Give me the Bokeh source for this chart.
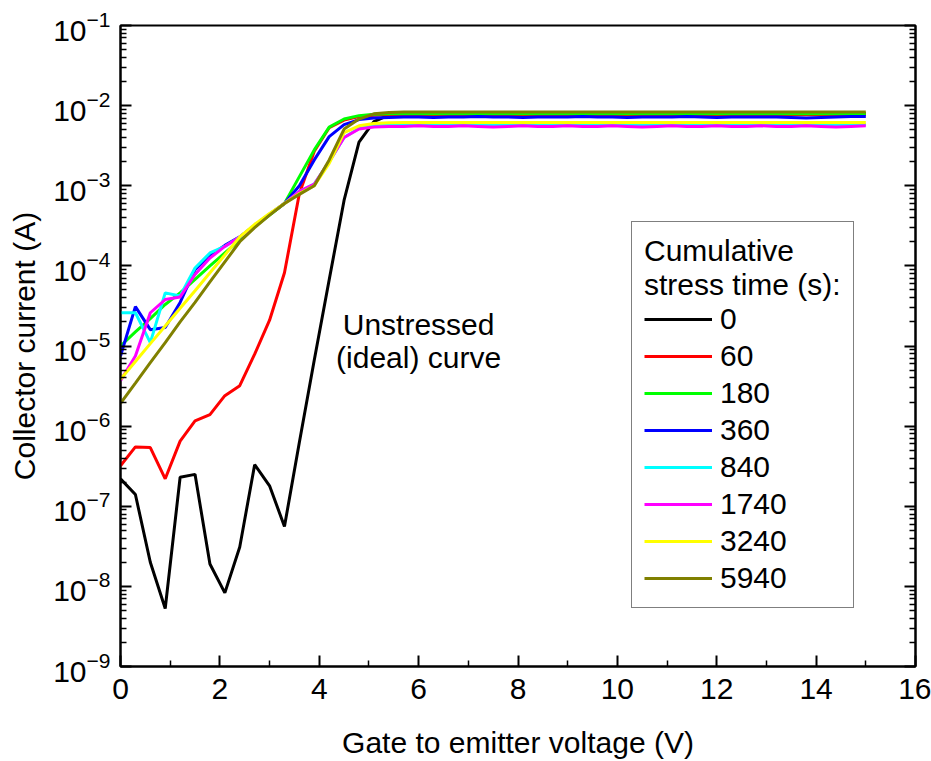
from bokeh.plotting import figure
from bokeh.models import (Range1d, LogAxis, Legend, LegendItem, Label,
                          FixedTicker, CustomJSTickFormatter)
from bokeh.embed import file_html
from bokeh.resources import INLINE

FONT = "Liberation Sans"

# Gate-emitter voltage (V)
vge = [0.0, 0.3, 0.6, 0.9, 1.2, 1.5, 1.8, 2.1, 2.4, 2.7, 3.0, 3.3, 3.6, 3.9, 4.2, 4.5, 4.8,
       5.1, 5.4, 5.7, 6.0, 6.3, 6.6, 6.9, 7.2, 7.5, 7.8, 8.1, 8.4, 8.7, 9.0, 9.3, 9.6, 9.9,
       10.2, 10.5, 10.8, 11.1, 11.4, 11.7, 12.0, 12.3, 12.6, 12.9, 13.2, 13.5, 13.8, 14.1,
       14.4, 14.7, 15.0]

stress_labels = ["0", "60", "180", "360", "840", "1740", "3240", "5940"]
colors = ["#000000", "#ff0000", "#00ff00", "#0000ff", "#00ffff", "#ff00ff", "#ffff00", "#808000"]

ic_0 = [2.2e-7, 1.4e-7, 2.0e-8, 5.3e-9, 2.3e-7, 2.5e-7, 1.9e-8, 8.3e-9, 3.1e-8, 3.3e-7, 1.8e-7, 5.6e-8,
        6.3e-7, 6.7e-6, 6.7e-5, 6.6e-4, 3.5e-3, 6.3e-3, 7.6e-3, 7.9e-3,
        8.0e-3, 8.0e-3, 8.0e-3, 8.0e-3, 8.0e-3, 8.0e-3, 8.0e-3, 8.0e-3, 8.0e-3, 8.0e-3, 8.0e-3,
        8.0e-3, 8.0e-3, 8.0e-3, 8.0e-3, 8.0e-3, 8.0e-3, 8.0e-3, 8.0e-3, 8.0e-3, 8.0e-3, 8.0e-3,
        8.0e-3, 8.0e-3, 8.0e-3, 8.0e-3, 8.0e-3, 8.0e-3, 8.0e-3, 8.0e-3, 8.0e-3]
ic_60 = [3.2e-7, 5.5e-7, 5.4e-7, 2.2e-7, 6.5e-7, 1.16e-6, 1.39e-6, 2.4e-6, 3.2e-6, 7.9e-6, 2.1e-5, 8.2e-5,
         8.0e-4, 2.7e-3, 5.3e-3, 6.6e-3, 7.3e-3, 7.6e-3, 7.7e-3, 7.7e-3,
         7.7e-3, 7.7e-3, 7.7e-3, 7.7e-3, 7.7e-3, 7.7e-3, 7.7e-3, 7.7e-3, 7.7e-3, 7.7e-3, 7.7e-3,
         7.7e-3, 7.7e-3, 7.7e-3, 7.7e-3, 7.7e-3, 7.7e-3, 7.7e-3, 7.7e-3, 7.7e-3, 7.7e-3, 7.7e-3,
         7.7e-3, 7.7e-3, 7.7e-3, 7.7e-3, 7.7e-3, 7.7e-3, 7.7e-3, 7.7e-3, 7.7e-3]
ic_180 = [1.0e-5, 1.5e-5, 2.2e-5, 3.3e-5, 4.6e-5, 6.8e-5, 1.0e-4, 1.45e-4, 2.1e-4, 3.1e-4, 4.3e-4, 6.0e-4,
          1.3e-3, 2.8e-3, 5.4e-3, 6.8e-3, 7.5e-3, 7.8e-3, 7.9e-3, 7.9e-3,
          7.9e-3, 7.9e-3, 7.9e-3, 7.9e-3, 7.9e-3, 7.9e-3, 7.9e-3, 7.9e-3, 7.9e-3, 7.9e-3, 7.9e-3,
          7.9e-3, 7.9e-3, 7.9e-3, 7.9e-3, 7.9e-3, 7.9e-3, 7.9e-3, 7.9e-3, 7.9e-3, 7.9e-3, 7.9e-3,
          7.9e-3, 7.9e-3, 7.9e-3, 7.9e-3, 7.9e-3, 7.9e-3, 7.9e-3, 7.9e-3, 7.9e-3]
ic_360 = [7.5e-6, 3.1e-5, 1.6e-5, 1.7e-5, 3.5e-5, 9.0e-5, 1.35e-4, 1.8e-4, 2.3e-4, 3.2e-4, 4.4e-4, 6.0e-4,
          1.0e-3, 2.1e-3, 4.1e-3, 5.8e-3, 6.7e-3, 7.0e-3, 7.1e-3, 7.2e-3,
          7.2e-3, 7.1e-3, 7.2e-3, 7.2e-3, 7.3e-3, 7.2e-3, 7.2e-3, 7.1e-3, 7.2e-3, 7.2e-3, 7.2e-3,
          7.3e-3, 7.2e-3, 7.2e-3, 7.1e-3, 7.2e-3, 7.2e-3, 7.2e-3, 7.3e-3, 7.2e-3, 7.1e-3, 7.2e-3,
          7.2e-3, 7.2e-3, 7.2e-3, 7.1e-3, 7.0e-3, 7.1e-3, 7.2e-3, 7.3e-3, 7.3e-3]
ic_840 = [2.6e-5, 2.6e-5, 1.1e-5, 4.6e-5, 4.2e-5, 9.4e-5, 1.45e-4, 1.75e-4, 2.3e-4, 3.2e-4, 4.4e-4, 6.0e-4,
          8.5e-4, 1.05e-3, 2.0e-3, 4.0e-3, 5.2e-3, 5.6e-3, 5.7e-3, 5.8e-3,
          5.8e-3, 5.8e-3, 5.8e-3, 5.8e-3, 5.8e-3, 5.8e-3, 5.8e-3, 5.8e-3, 5.8e-3, 5.8e-3, 5.8e-3,
          5.8e-3, 5.8e-3, 5.8e-3, 5.8e-3, 5.8e-3, 5.8e-3, 5.8e-3, 5.8e-3, 5.8e-3, 5.8e-3, 5.8e-3,
          5.8e-3, 5.8e-3, 5.8e-3, 5.8e-3, 5.8e-3, 5.8e-3, 5.8e-3, 5.8e-3, 5.8e-3]
ic_1740 = [3.7e-6, 7.5e-6, 2.6e-5, 3.8e-5, 4.1e-5, 7.8e-5, 1.25e-4, 1.75e-4, 2.3e-4, 3.2e-4, 4.4e-4, 6.0e-4,
           8.5e-4, 1.05e-3, 2.0e-3, 4.0e-3, 5.1e-3, 5.4e-3, 5.5e-3, 5.5e-3,
           5.6e-3, 5.5e-3, 5.5e-3, 5.6e-3, 5.5e-3, 5.4e-3, 5.5e-3, 5.6e-3, 5.5e-3, 5.5e-3, 5.6e-3,
           5.5e-3, 5.5e-3, 5.6e-3, 5.5e-3, 5.4e-3, 5.5e-3, 5.6e-3, 5.5e-3, 5.5e-3, 5.6e-3, 5.5e-3,
           5.5e-3, 5.6e-3, 5.5e-3, 5.5e-3, 5.6e-3, 5.5e-3, 5.4e-3, 5.5e-3, 5.6e-3]
ic_3240 = [3.85e-6, 6.4e-6, 1.07e-5, 1.78e-5, 2.96e-5, 4.9e-5, 8.2e-5, 1.37e-4, 2.3e-4, 3.3e-4, 4.5e-4, 6.0e-4,
           8.0e-4, 1.0e-3, 1.9e-3, 4.6e-3, 5.6e-3, 6.0e-3, 6.1e-3, 6.15e-3,
           6.15e-3, 6.15e-3, 6.15e-3, 6.15e-3, 6.15e-3, 6.15e-3, 6.15e-3, 6.15e-3, 6.15e-3, 6.15e-3, 6.15e-3,
           6.15e-3, 6.15e-3, 6.15e-3, 6.15e-3, 6.15e-3, 6.15e-3, 6.15e-3, 6.15e-3, 6.15e-3, 6.15e-3, 6.15e-3,
           6.15e-3, 6.15e-3, 6.15e-3, 6.15e-3, 6.15e-3, 6.15e-3, 6.15e-3, 6.15e-3, 6.15e-3]
ic_5940 = [1.93e-6, 3.45e-6, 6.2e-6, 1.1e-5, 2.0e-5, 3.5e-5, 6.3e-5, 1.12e-4, 2.0e-4, 3.0e-4, 4.3e-4, 6.0e-4,
           7.8e-4, 1.0e-3, 2.1e-3, 5.1e-3, 6.8e-3, 7.9e-3, 8.2e-3, 8.3e-3,
           8.3e-3, 8.3e-3, 8.3e-3, 8.3e-3, 8.3e-3, 8.3e-3, 8.3e-3, 8.3e-3, 8.3e-3, 8.3e-3, 8.3e-3,
           8.3e-3, 8.3e-3, 8.3e-3, 8.3e-3, 8.3e-3, 8.3e-3, 8.3e-3, 8.3e-3, 8.3e-3, 8.3e-3, 8.3e-3,
           8.3e-3, 8.3e-3, 8.3e-3, 8.3e-3, 8.3e-3, 8.3e-3, 8.3e-3, 8.3e-3, 8.3e-3]

series = [ic_0, ic_60, ic_180, ic_360, ic_840, ic_1740, ic_3240, ic_5940]

x_major = [0, 2, 4, 6, 8, 10, 12, 14, 16]
x_minor = [1, 3, 5, 7, 9, 11, 13, 15]
y_major = [1e-9, 1e-8, 1e-7, 1e-6, 1e-5, 1e-4, 1e-3, 1e-2, 1e-1]
y_minor = [m * d for d in y_major[:-1] for m in range(2, 10)]

p = figure(width=931, height=761, x_range=Range1d(0, 16), y_range=Range1d(1e-9, 1e-1),
           y_axis_type="log", output_backend="svg", toolbar_location=None,
           min_border_left=120, min_border_right=16, min_border_top=25, min_border_bottom=93)
p.grid.visible = False
p.outline_line_color = "black"
p.outline_line_width = 2
p.background_fill_color = None
p.border_fill_color = "white"

def style_axis(ax, show_labels):
    ax.axis_line_width = 2
    ax.axis_line_color = "black"
    ax.major_tick_line_width = 2
    ax.major_tick_line_color = "black"
    ax.minor_tick_line_width = 1.5
    ax.minor_tick_line_color = "black"
    ax.major_tick_in = 11
    ax.major_tick_out = 0
    ax.minor_tick_in = 6
    ax.minor_tick_out = 0
    ax.major_label_text_font = FONT
    ax.major_label_text_font_size = "30px"
    ax.major_label_text_color = "black"
    ax.axis_label_text_font = FONT
    ax.axis_label_text_font_size = "30px"
    ax.axis_label_text_font_style = "normal"
    ax.axis_label_text_color = "black"
    if not show_labels:
        ax.formatter = CustomJSTickFormatter(code="return ''")
        ax.major_label_standoff = 0

xa = p.xaxis[0]
xa.ticker = FixedTicker(ticks=x_major, minor_ticks=x_minor)
xa.axis_label = "Gate to emitter voltage (V)"
style_axis(xa, True)
xa.major_label_standoff = 12
xa.axis_label_standoff = 24

ya = p.yaxis[0]
ya.ticker = FixedTicker(ticks=y_major, minor_ticks=y_minor)
ya.axis_label = "Collector current (A)"
style_axis(ya, True)
ya.major_label_standoff = 10
ya.axis_label_standoff = 9

ra = LogAxis(ticker=FixedTicker(ticks=y_major, minor_ticks=y_minor))
style_axis(ra, False)
p.add_layout(ra, "right")

renderers = []
for ys, c in zip(series, colors):
    r = p.line(vge, ys, line_color=c, line_width=3)
    renderers.append(r)

items = [LegendItem(label=lab, renderers=[r]) for lab, r in zip(stress_labels, renderers)]
legend = Legend(items=items, title="Cumulative\nstress time (s):", location=(511, 58),
                label_text_font=FONT, label_text_font_size="30px", label_text_color="black",
                title_text_font=FONT, title_text_font_size="30px", title_text_font_style="normal",
                title_text_color="black", title_text_line_height=0.8,
                glyph_width=68, glyph_height=30, label_height=30, spacing=3, label_standoff=8,
                padding=12, margin=0, border_line_color="black", border_line_width=1,
                background_fill_alpha=1.0, title_standoff=0)
p.add_layout(legend)

for txt, yv in [("Unstressed", 1.86e-5), ("(ideal) curve", 7.2e-6)]:
    p.add_layout(Label(x=6.0, y=yv, text=txt, text_align="center", text_baseline="middle",
                       text_font=FONT, text_font_size="30px", text_color="black"))

open("out.html", "w").write(file_html(p, INLINE))
